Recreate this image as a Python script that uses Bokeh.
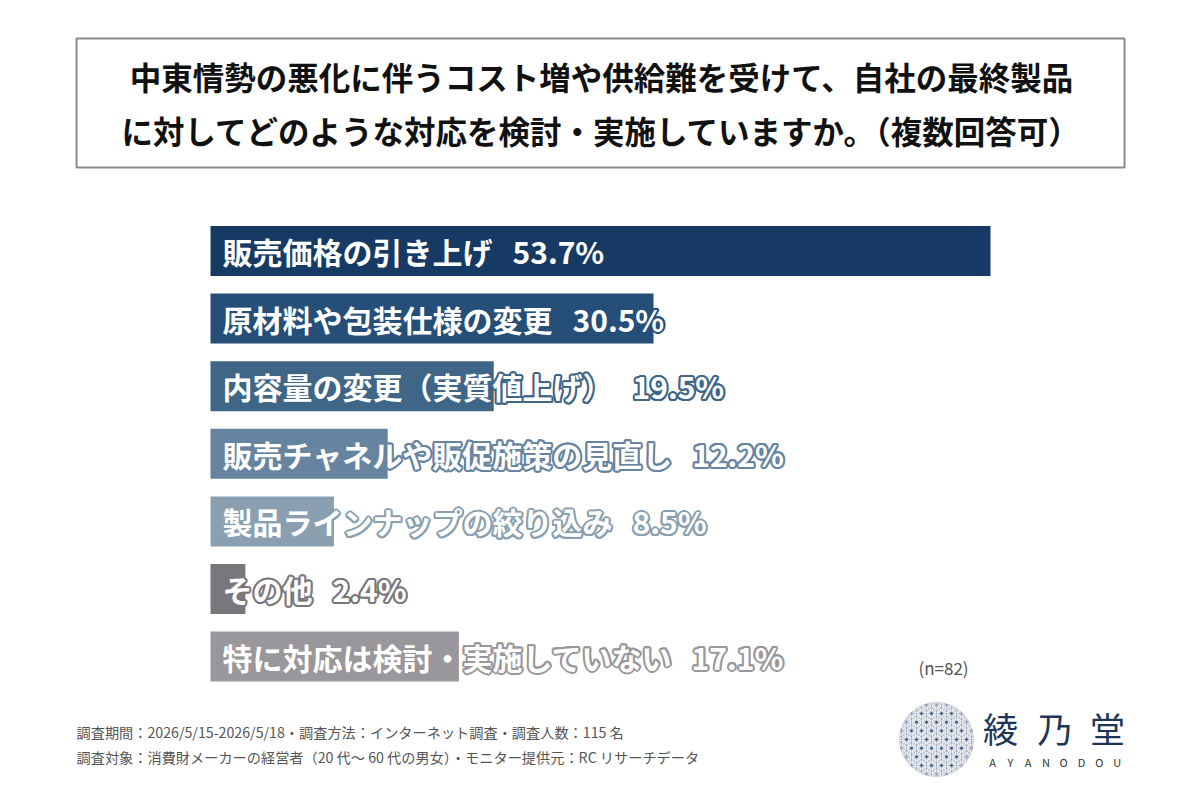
import math
from bokeh.plotting import figure
from bokeh.models import Range1d, ColumnDataSource
from bokeh.core.properties import value
from bokeh.embed import file_html
from bokeh.resources import INLINE

# ---------------- data ----------------
categories = [
    "販売価格の引き上げ",
    "原材料や包装仕様の変更",
    "内容量の変更（実質値上げ）",
    "販売チャネルや販促施策の見直し",
    "製品ラインナップの絞り込み",
    "その他",
    "特に対応は検討・実施していない",
]
values = [53.7, 30.5, 19.5, 12.2, 8.5, 2.4, 17.1]
bar_colors = ["#163a63", "#254f79", "#3f6687", "#6683a0", "#8a9fb0", "#79777c", "#99979c"]

title_lines = [
    "中東情勢の悪化に伴うコスト増や供給難を受けて、自社の最終製品",
    "に対してどのような対応を検討・実施していますか。（複数回答可）",
]
footer_lines = [
    "調査期間：2026/5/15-2026/5/18・調査方法：インターネット調査・調査人数：115 名",
    "調査対象：消費財メーカーの経営者（20 代～ 60 代の男女）・モニター提供元：RC リサーチデータ",
]
n_note = "(n=82)"
logo_chars = ["綾", "乃", "堂"]
logo_sub = list("AYANODOU")

# ---------------- layout helpers (page pixel -> data) ----------------
W, H = 1184, 784
OX, OY = 0, 0
X0_PX = 210.0
SX = 780.0 / 53.7          # px per percent
Y0_PX = 250.5
SY = 67.6                  # px per bar slot


def fx(px):
    return (px - X0_PX) / SX


def fy(py):
    return (py - Y0_PX) / SY


p = figure(
    width=W, height=H,
    x_range=Range1d(fx(OX), fx(OX + W)),
    y_range=Range1d(fy(OY + H), fy(OY)),
    output_backend="svg", toolbar_location=None,
    x_axis_type=None, y_axis_type=None,
    min_border=0, outline_line_color=None,
    background_fill_color="white", border_fill_color="white",
)
p.grid.visible = False

JP = value("Noto Sans CJK JP")

# ---------------- title box ----------------
p.quad(left=[fx(76)], right=[fx(1124)], top=[fy(38)], bottom=[fy(167)],
       fill_color="white", line_color="#8a8a8a", line_width=2)
p.text(x=[fx(601), fx(601)], y=[fy(75), fy(129)], text=title_lines,
       text_font=JP, text_font_style="bold", text_font_size="31.5px",
       text_color="#111111", text_align="center", text_baseline="middle")

# ---------------- bars ----------------
idx = list(range(len(categories)))
src = ColumnDataSource(dict(
    y=idx, v=values, c=bar_colors,
    lab=[f"{c}\u2002\u2006{v:.1f}%" for c, v in zip(categories, values)],
))
p.hbar(y="y", left=0, right="v", height=50.0 / SY, fill_color="c",
       line_color=None, source=src)

# outline (bar-coloured halo) then white text
r_out = 2.0
for k in range(16):
    a = 2 * math.pi * k / 16
    p.text(x=fx(222), y="y", text="lab", source=src,
           x_offset=r_out * math.cos(a), y_offset=r_out * math.sin(a),
           text_font=JP, text_font_style="bold", text_font_size="30px",
           text_color="c", text_align="left", text_baseline="middle")
p.text(x=fx(222), y="y", text="lab", source=src,
       text_font=JP, text_font_style="bold", text_font_size="30px",
       text_color="white", text_align="left", text_baseline="middle")

# ---------------- n note ----------------
p.text(x=[fx(943)], y=[fy(667)], text=[n_note], text_font=JP,
       text_font_size="17px", text_color="#555555",
       text_align="center", text_baseline="middle")

# ---------------- footer ----------------
p.text(x=[fx(76), fx(76)], y=[fy(731), fy(756)], text=footer_lines,
       text_font=JP, text_font_size="14.2px", text_color="#555555",
       text_align="left", text_baseline="middle")

# ---------------- logo ----------------
cx, cy, R = 936.0, 739.0, 37.0
p.scatter(x=[fx(cx)], y=[fy(cy)], size=2 * R, marker="circle",
          fill_color="white", line_color="#d5dbe3", line_width=1)

s = 10.0
xs_l, ys_l = [], []
for ang_deg, step in [(0, s * math.sqrt(3) / 2), (60, s * math.sqrt(3) / 2), (120, s * math.sqrt(3) / 2),
                      (90, s / 2), (30, s / 2), (150, s / 2)]:
    a = math.radians(ang_deg)
    d = (math.cos(a), math.sin(a))
    nrm = (-d[1], d[0])
    k = -int(R / step)
    while k * step <= R:
        o = k * step
        if abs(o) < R:
            h = math.sqrt(R * R - o * o)
            x1 = cx + o * nrm[0] - h * d[0]
            y1 = cy + o * nrm[1] - h * d[1]
            x2 = cx + o * nrm[0] + h * d[0]
            y2 = cy + o * nrm[1] + h * d[1]
            xs_l.append([fx(x1), fx(x2)])
            ys_l.append([fy(y1), fy(y2)])
        k += 1
p.multi_line(xs=xs_l, ys=ys_l, line_color="#8493aa", line_width=0.6, line_alpha=0.85)

dx, dy = [], []
row_h = s * math.sqrt(3) / 2
for j in range(-6, 7):
    for i in range(-6, 7):
        px = cx + i * s + (s / 2 if j % 2 else 0)
        py = cy + j * row_h
        if (px - cx) ** 2 + (py - cy) ** 2 < (R - 3) ** 2:
            dx.append(fx(px))
            dy.append(fy(py))
p.scatter(x=dx, y=dy, size=2.5, fill_color="#2f4f7a", line_color=None)

p.text(x=[fx(1000), fx(1054), fx(1107)], y=[fy(727)] * 3, text=logo_chars,
       text_font=JP, text_font_size="35px", text_color="#1d3557",
       text_align="center", text_baseline="middle")
p.text(x=[fx(992 + 17.8 * i) for i in range(len(logo_sub))], y=[fy(761)] * len(logo_sub),
       text=logo_sub, text_font=JP, text_font_size="11px", text_color="#333333",
       text_align="center", text_baseline="middle")

open("out.html", "w").write(file_html(p, INLINE))
